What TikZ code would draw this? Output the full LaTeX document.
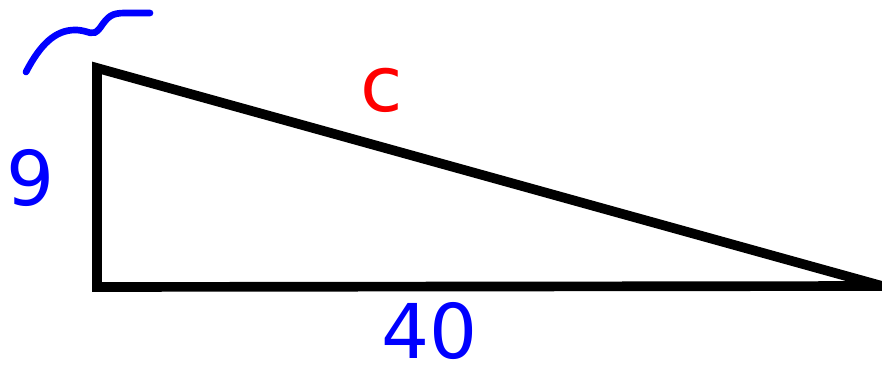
\documentclass[tikz,border=0pt]{standalone}
\usepackage{fontspec}
\setmainfont{DejaVu Sans}
\usetikzlibrary{calc}
\definecolor{sidecolor}{RGB}{0, 0, 0}
\definecolor{givencolor}{RGB}{0, 0, 255}
\definecolor{unknowncolor}{RGB}{255, 0, 0}
\tikzset{
side/.style={
  draw=sidecolor,
  line width=5.5pt,
  line join=miter
},
givenlabel/.style={
  text=givencolor,
  font=\fontsize{43}{43}\selectfont,
  inner sep=0pt
},
unknownlabel/.style={
  text=unknowncolor,
  font=\fontsize{44}{44}\selectfont,
  inner sep=0pt
},
squiggle/.style={
  draw=givencolor,
  line width=3.8pt,
  line cap=round
}
}
\begin{document}
\begin{tikzpicture}[x=0.02cm,y=-0.02cm]
  \useasboundingbox (0,0) rectangle (882,371);
  % corners of the triangle
  \coordinate (top) at (97,68);
  \coordinate (corner) at (97,287);
  \coordinate (tip) at (882,286);
  \draw[side] (top) -- (corner) -- (tip) -- cycle;
  % labels of the sides
  \node[givenlabel] (legA) at (31,178) {9};
  \node[givenlabel] (legB) at (430,331) {40};
  \node[unknownlabel] (hyp) at (382,90) {c};
  % mark above the left side
  \coordinate (markA) at (26,72);
  \coordinate (markB) at (150,13);
  \draw[squiggle] (markA) .. controls (40,45) and (55,30) .. (75,30)
    .. controls (90,30) and (92,38) .. (100,28)
    .. controls (108,16) and (112,13) .. (125,13) -- (markB);
\end{tikzpicture}
\end{document}
